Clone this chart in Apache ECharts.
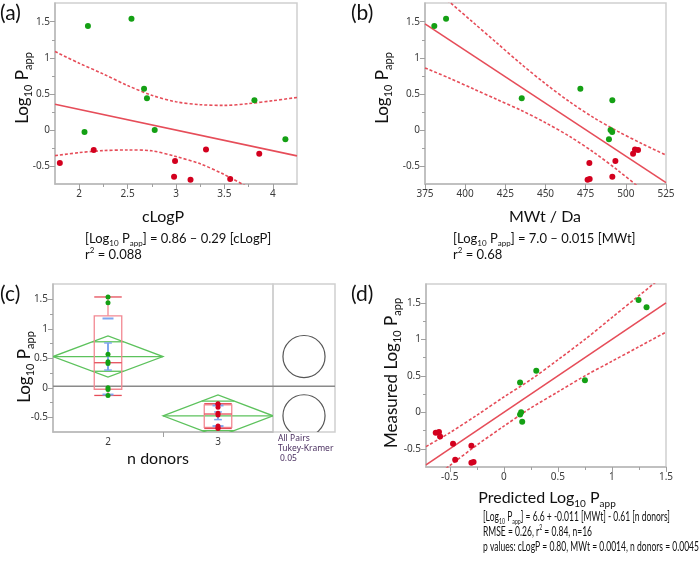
<!DOCTYPE html>
<html>
<head>
<meta charset="utf-8">
<script src="https://cdn.jsdelivr.net/npm/echarts@6/dist/echarts.min.js"></script>
<style>
  html, body { margin: 0; padding: 0; background: #fff; }
  #chart { width: 700px; height: 562px; }
</style>
</head>
<body>
<div id="chart"></div>
<script>
// one entry per compound (16)
const logPapp   = [1.44, 1.54, 0.57, 0.44, 0.41, -0.03, 0.00, -0.13, -0.46, -0.28, -0.43, -0.65, -0.69, -0.27, -0.68, -0.33];
const clogP     = [2.09, 2.54, 2.67, 2.70, 3.81, 2.055, 2.78, 4.13, 1.80, 2.15, 2.99, 2.98, 3.15, 3.31, 3.56, 3.86];
const mwt       = [380.8, 388.1, 471.7, 435.2, 491.6, 491.5, 490.5, 489.5, 477.3, 507.6, 493.5, 491.6, 476.2, 505.7, 477.5, 504.5];
const nDonors   = [2, 2, 2, 2, 2, 2, 2, 2, 3, 3, 3, 3, 3, 3, 3, 3];
const predicted = [1.32, 1.246, 0.30, 0.75, 0.15, 0.15, 0.16, 0.17, -0.30, -0.63, -0.47, -0.45, -0.30, -0.60, -0.28, -0.59];

// fit lines and confidence curves
const fitAX = [1.75, 4.25];
const fitAY = [0.355, -0.36];
const bandAX = [1.75, 2.0, 2.25, 2.5, 2.75, 3.0, 3.25, 3.5, 3.75, 4.0, 4.25];
const bandAUpper = [1.087, 0.925, 0.775, 0.615, 0.48, 0.39, 0.35, 0.34, 0.365, 0.405, 0.45];
const bandALower = [-0.357, -0.315, -0.287, -0.278, -0.29, -0.37, -0.47, -0.62, -0.80, -0.99, -1.18];

const fitBX = [375, 525];
const fitBY = [1.47, -0.73];
const bandBX = [375, 390, 405, 420, 435, 450, 465, 480, 495, 510, 525];
const bandBUpper = [2.08, 1.78, 1.49, 1.20, 0.91, 0.64, 0.39, 0.17, -0.02, -0.19, -0.35];
const bandBLower = [0.86, 0.72, 0.57, 0.42, 0.27, 0.10, -0.09, -0.31, -0.56, -0.83, -1.11];

const fitDX = [-0.72, 1.5];
const fitDY = [-0.72, 1.5];
const bandDX = [-0.72, -0.5, -0.25, 0, 0.25, 0.5, 0.75, 1, 1.25, 1.5];
const bandDUpper = [-0.47, -0.28, -0.04, 0.21, 0.45, 0.72, 1.0, 1.3, 1.6, 1.9];
const bandDLower = [-0.98, -0.73, -0.45, -0.19, 0.06, 0.28, 0.50, 0.70, 0.90, 1.10];

// panel (c) group summaries
const groupPos = [2, 3];
const groupMean = [0.53, -0.475];
const ciHigh = [0.88, -0.12];
const ciLow = [0.18, -0.83];
const overlapHigh = [0.78, -0.225];
const overlapLow = [0.28, -0.725];
const boxQ1 = [-0.025, -0.67];
const boxMedian = [0.425, -0.445];
const boxQ3 = [1.22, -0.29];
const whiskerLow = [-0.13, -0.69];
const whiskerHigh = [1.54, -0.27];
const seLow = [0.30, -0.54];
const seHigh = [0.76, -0.41];
const sdLow = [-0.115, -0.65];
const sdHigh = [1.175, -0.30];
const grandMean = 0.028;
const circleRadius = 0.357;

// ticks
const yTicks = [-0.5, 0, 0.5, 1, 1.5];
const yMinor = [-0.25, 0.25, 0.75, 1.25];
const aTicks = [2, 2.5, 3, 3.5, 4];
const aMinor = [2.25, 2.75, 3.25, 3.75];
const bTicks = [375, 400, 425, 450, 475, 500, 525];
const dTicks = [-0.5, 0, 0.5, 1, 1.5];
const dMinor = [-0.25, 0.25, 0.75, 1.25];

const GREEN = '#14a014';
const RED = '#d3001e';
const LINE_RED = '#e64d59';
const DIAMOND = '#5cc25c';
const BOX = '#f28892';
const BLUE = '#7ea6ee';
const F = 'Lato, "Noto Sans", sans-serif';
const TICKF = '"Noto Sans", sans-serif';

const chart = echarts.init(document.getElementById('chart'));

function axis(gridIndex, min, max, ticks, minor, labels, pos) {
    return {
        type: 'value', gridIndex: gridIndex, min: min, max: max, position: pos,
        splitLine: { show: false },
        axisLine: { show: !minor, onZero: false, lineStyle: { color: '#b8b8b8', width: 1.5 } },
        axisTick: { show: true, customValues: ticks, length: minor ? 3 : 5, lineStyle: { color: '#a0a0a0' } },
        axisLabel: { show: !minor, customValues: labels || ticks, fontSize: 10, color: '#3a3a3a', fontFamily: TICKF, margin: 5 }
    };
}
function hiddenAxis(gridIndex, min, max) {
    return { type: 'value', gridIndex: gridIndex, min: min, max: max, show: false };
}

const grids = [
    { left: 55, top: 3, width: 242, height: 181 },
    { left: 425, top: 3, width: 241, height: 181 },
    { left: 53, top: 284, width: 220, height: 148 },
    { left: 273, top: 284, width: 62, height: 148 },
    { left: 426, top: 284, width: 240, height: 183 }
].map(g => Object.assign({ show: true, borderColor: '#d0d0d0', borderWidth: 1.5, backgroundColor: 'transparent' }, g));

const xAxes = [
    axis(0, 1.75, 4.25, aTicks, false, null, 'bottom'),
    axis(0, 1.75, 4.25, aMinor, true, null, 'bottom'),
    axis(1, 375, 525, bTicks, false, null, 'bottom'),
    axis(2, 1.5, 3.5, [2.5], false, groupPos, 'bottom'),
    hiddenAxis(3, 0, 1),
    axis(4, -0.72, 1.5, dTicks, false, null, 'bottom'),
    axis(4, -0.72, 1.5, dMinor, true, null, 'bottom')
];
const yAxes = [
    axis(0, -0.75, 1.76, yTicks, false, null, 'left'),
    axis(0, -0.75, 1.76, yMinor, true, null, 'left'),
    axis(1, -0.75, 1.76, yTicks, false, null, 'left'),
    axis(1, -0.75, 1.76, yMinor, true, null, 'left'),
    axis(2, -0.75, 1.76, yTicks, false, null, 'left'),
    axis(2, -0.75, 1.76, yMinor, true, null, 'left'),
    hiddenAxis(3, -0.75, 1.76),
    axis(4, -0.75, 1.76, yTicks, false, null, 'left'),
    axis(4, -0.75, 1.76, yMinor, true, null, 'left')
];

const greenIdx = [], redIdx = [];
nDonors.forEach((d, i) => (d === 2 ? greenIdx : redIdx).push(i));

function scatter(xi, yi, xs, idx, color, size) {
    return {
        type: 'scatter', xAxisIndex: xi, yAxisIndex: yi, symbolSize: size || 6, z: 5, silent: true,
        itemStyle: { color: color, opacity: 1 },
        data: idx.map(i => [xs[i], logPapp[i]])
    };
}
function line(xi, yi, xs, ys, dashed) {
    return {
        type: 'line', xAxisIndex: xi, yAxisIndex: yi, symbol: 'none', clip: true, silent: true, z: 3,
        smooth: dashed ? 0.3 : false,
        lineStyle: { color: LINE_RED, width: 1.6, type: dashed ? [3, 2] : 'solid' },
        data: xs.map((x, k) => [x, ys[k]])
    };
}

function seg(a, b, color, w) {
    return { type: 'line', shape: { x1: a[0], y1: a[1], x2: b[0], y2: b[1] }, style: { stroke: color, lineWidth: w || 1.2, fill: null } };
}

function renderGroup(params, api) {
    const i = params.dataIndex;
    const x = groupPos[i];
    const c = (u, v) => api.coord([u, v]);
    const kids = [];
    if (i === 0) {
        const cs = params.coordSys;
        const gy = c(x, grandMean)[1];
        kids.push(seg([cs.x, gy], [cs.x + cs.width, gy], '#8a8a8a', 1.5));
    }
    const m = groupMean[i];
    // means diamond
    kids.push({
        type: 'polygon',
        shape: { points: [c(x - 0.5, m), c(x, ciHigh[i]), c(x + 0.5, m), c(x, ciLow[i])] },
        style: { fill: null, stroke: DIAMOND, lineWidth: 1.3 }
    });
    kids.push(seg(c(x - 0.5, m), c(x + 0.5, m), DIAMOND, 1.3));
    [[overlapHigh[i], ciHigh[i]], [overlapLow[i], ciLow[i]]].forEach(([ov, ci]) => {
        const hw = 0.5 * (1 - (ov - m) / (ci - m));
        kids.push(seg(c(x - hw, ov), c(x + hw, ov), DIAMOND, 1.3));
    });
    // box plot
    const bw = 0.125;
    const tl = c(x - bw, boxQ3[i]), br = c(x + bw, boxQ1[i]);
    kids.push(seg(c(x, boxQ3[i]), c(x, whiskerHigh[i]), BOX, 1.3));
    kids.push(seg(c(x, boxQ1[i]), c(x, whiskerLow[i]), BOX, 1.3));
    kids.push({
        type: 'rect', shape: { x: tl[0], y: tl[1], width: br[0] - tl[0], height: br[1] - tl[1] },
        style: { fill: null, stroke: BOX, lineWidth: 1.3 }
    });
    kids.push(seg(c(x - bw, boxMedian[i]), c(x + bw, boxMedian[i]), LINE_RED, 1.3));
    kids.push(seg(c(x - bw, whiskerHigh[i]), c(x + bw, whiskerHigh[i]), LINE_RED, 1.3));
    kids.push(seg(c(x - bw, whiskerLow[i]), c(x + bw, whiskerLow[i]), LINE_RED, 1.3));
    // mean error bar and std dev lines
    kids.push(seg(c(x, seLow[i]), c(x, seHigh[i]), BLUE, 2));
    kids.push(seg(c(x - 0.035, seLow[i]), c(x + 0.035, seLow[i]), BLUE, 1.5));
    kids.push(seg(c(x - 0.035, seHigh[i]), c(x + 0.035, seHigh[i]), BLUE, 1.5));
    kids.push(seg(c(x - 0.05, sdLow[i]), c(x + 0.05, sdLow[i]), BLUE, 2));
    kids.push(seg(c(x - 0.05, sdHigh[i]), c(x + 0.05, sdHigh[i]), BLUE, 2));
    return { type: 'group', children: kids };
}

function renderCircle(params, api) {
    const i = params.dataIndex;
    const kids = [];
    if (i === 0) {
        const cs = params.coordSys;
        const gy = api.coord([0, grandMean])[1];
        kids.push(seg([cs.x, gy], [cs.x + cs.width, gy], '#8a8a8a', 1.5));
    }
    const p = api.coord([0.5, groupMean[i]]);
    const r = api.size([0, circleRadius])[1];
    kids.push({ type: 'circle', shape: { cx: p[0], cy: p[1], r: r }, style: { fill: null, stroke: '#555', lineWidth: 1.2 } });
    return { type: 'group', children: kids };
}

const series = [
    // (a)
    line(0, 0, bandAX, bandAUpper, true),
    line(0, 0, bandAX, bandALower, true),
    line(0, 0, fitAX, fitAY, false),
    scatter(0, 0, clogP, greenIdx, GREEN),
    scatter(0, 0, clogP, redIdx, RED),
    // (b)
    line(2, 2, bandBX, bandBUpper, true),
    line(2, 2, bandBX, bandBLower, true),
    line(2, 2, fitBX, fitBY, false),
    scatter(2, 2, mwt, greenIdx, GREEN),
    scatter(2, 2, mwt, redIdx, RED),
    // (c)
    {
        type: 'custom', xAxisIndex: 3, yAxisIndex: 4, clip: true, silent: true, z: 2,
        data: groupPos.map((x, i) => [x, groupMean[i]]),
        renderItem: renderGroup
    },
    scatter(3, 4, nDonors, greenIdx, GREEN, 5),
    scatter(3, 4, nDonors, redIdx, RED, 5),
    {
        type: 'custom', xAxisIndex: 4, yAxisIndex: 6, clip: true, silent: true,
        data: groupMean.map(m => [0.5, m]),
        renderItem: renderCircle
    },
    // (d)
    line(5, 7, bandDX, bandDUpper, true),
    line(5, 7, bandDX, bandDLower, true),
    line(5, 7, fitDX, fitDY, false),
    scatter(5, 7, predicted, greenIdx, GREEN),
    scatter(5, 7, predicted, redIdx, RED)
];

function subSize(size) { return Math.round(size * 0.64); }
function rich(size) {
    const s = subSize(size);
    return {
        n: { fontSize: size, fontFamily: F, lineHeight: Math.round(size * 1.3), verticalAlign: 'middle', fill: '#111' },
        s: { fontSize: s, fontFamily: F, lineHeight: s, verticalAlign: 'bottom', fill: '#111' },
        p: { fontSize: s, fontFamily: F, lineHeight: s, verticalAlign: 'top', fill: '#111' }
    };
}
// width of a rich string, to squeeze it to the width it has in the picture
const measureCtx = document.createElement('canvas').getContext('2d');
function richWidth(text, size) {
    let w = 0;
    text.replace(/\{(\w)\|([^}]*)\}/g, (all, st, str) => {
        measureCtx.font = (st === 'n' ? size : subSize(size)) + 'px Lato';
        w += measureCtx.measureText(str).width;
        return all;
    });
    return w;
}
function txt(x, y, text, size, align, rotate, sx) {
    return {
        type: 'text', x: x, y: y, rotation: rotate ? Math.PI / 2 : 0, scaleX: sx || 1, silent: true,
        style: { text: text, rich: rich(size), align: align || 'left', verticalAlign: 'middle' }
    };
}
const LOGP = '{n|Log}{s|10}{n| P}{s|app}';
const dLines = [
    '{n|[Log}{s|10}{n| P}{s|app}{n|] = 6.6 + -0.011 [MWt] - 0.61 [n donors]}',
    '{n|RMSE = 0.26, r}{p|2}{n| = 0.84, n=16}',
    '{n|p values: cLogP = 0.80, MWt = 0.0014, n donors = 0.0045}'
];
const dScale = 216 / richWidth(dLines[2], 13);
const graphics = [
    txt(0, 13, '{n|(a)}', 21), txt(351, 13, '{n|(b)}', 21),
    txt(0, 294, '{n|(c)}', 21), txt(351, 294, '{n|(d)}', 21),
    txt(23, 88, LOGP, 17, 'center', true),
    txt(383, 88, LOGP, 17, 'center', true),
    txt(25, 367, LOGP, 17, 'center', true),
    txt(392, 373, '{n|Measured }' + LOGP, 17, 'center', true),
    txt(163, 217, '{n|cLogP}', 16, 'center'),
    txt(545, 217, '{n|MWt / Da}', 16, 'center'),
    txt(158, 459, '{n|n donors}', 16, 'center'),
    txt(547, 498, '{n|Predicted }' + LOGP, 16, 'center'),
    txt(85, 239, '{n|[Log}{s|10}{n| P}{s|app}{n|] = 0.86 – 0.29 [cLogP]}', 13),
    txt(85, 255, '{n|r}{p|2}{n| = 0.088}', 13),
    txt(453, 239, '{n|[Log}{s|10}{n| P}{s|app}{n|] = 7.0 – 0.015 [MWt]}', 13),
    txt(453, 255, '{n|r}{p|2}{n| = 0.68}', 13),
    txt(483, 517, dLines[0], 13, 'left', false, dScale),
    txt(483, 532, dLines[1], 13, 'left', false, dScale),
    txt(483, 547, dLines[2], 13, 'left', false, dScale),
    { type: 'text', x: 278, y: 439, silent: true, style: { text: 'All Pairs', fontSize: 8.5, fontFamily: TICKF, fill: '#4b3060', verticalAlign: 'middle' } },
    { type: 'text', x: 278, y: 449, silent: true, style: { text: 'Tukey-Kramer', fontSize: 8.5, fontFamily: TICKF, fill: '#4b3060', verticalAlign: 'middle' } },
    { type: 'text', x: 280, y: 459, silent: true, style: { text: '0.05', fontSize: 8.5, fontFamily: TICKF, fill: '#4b3060', verticalAlign: 'middle' } }
];

chart.setOption({
    backgroundColor: '#fff',
    animation: false,
    grid: grids,
    xAxis: xAxes,
    yAxis: yAxes,
    series: series,
    graphic: graphics
});
</script>
</body>
</html>
